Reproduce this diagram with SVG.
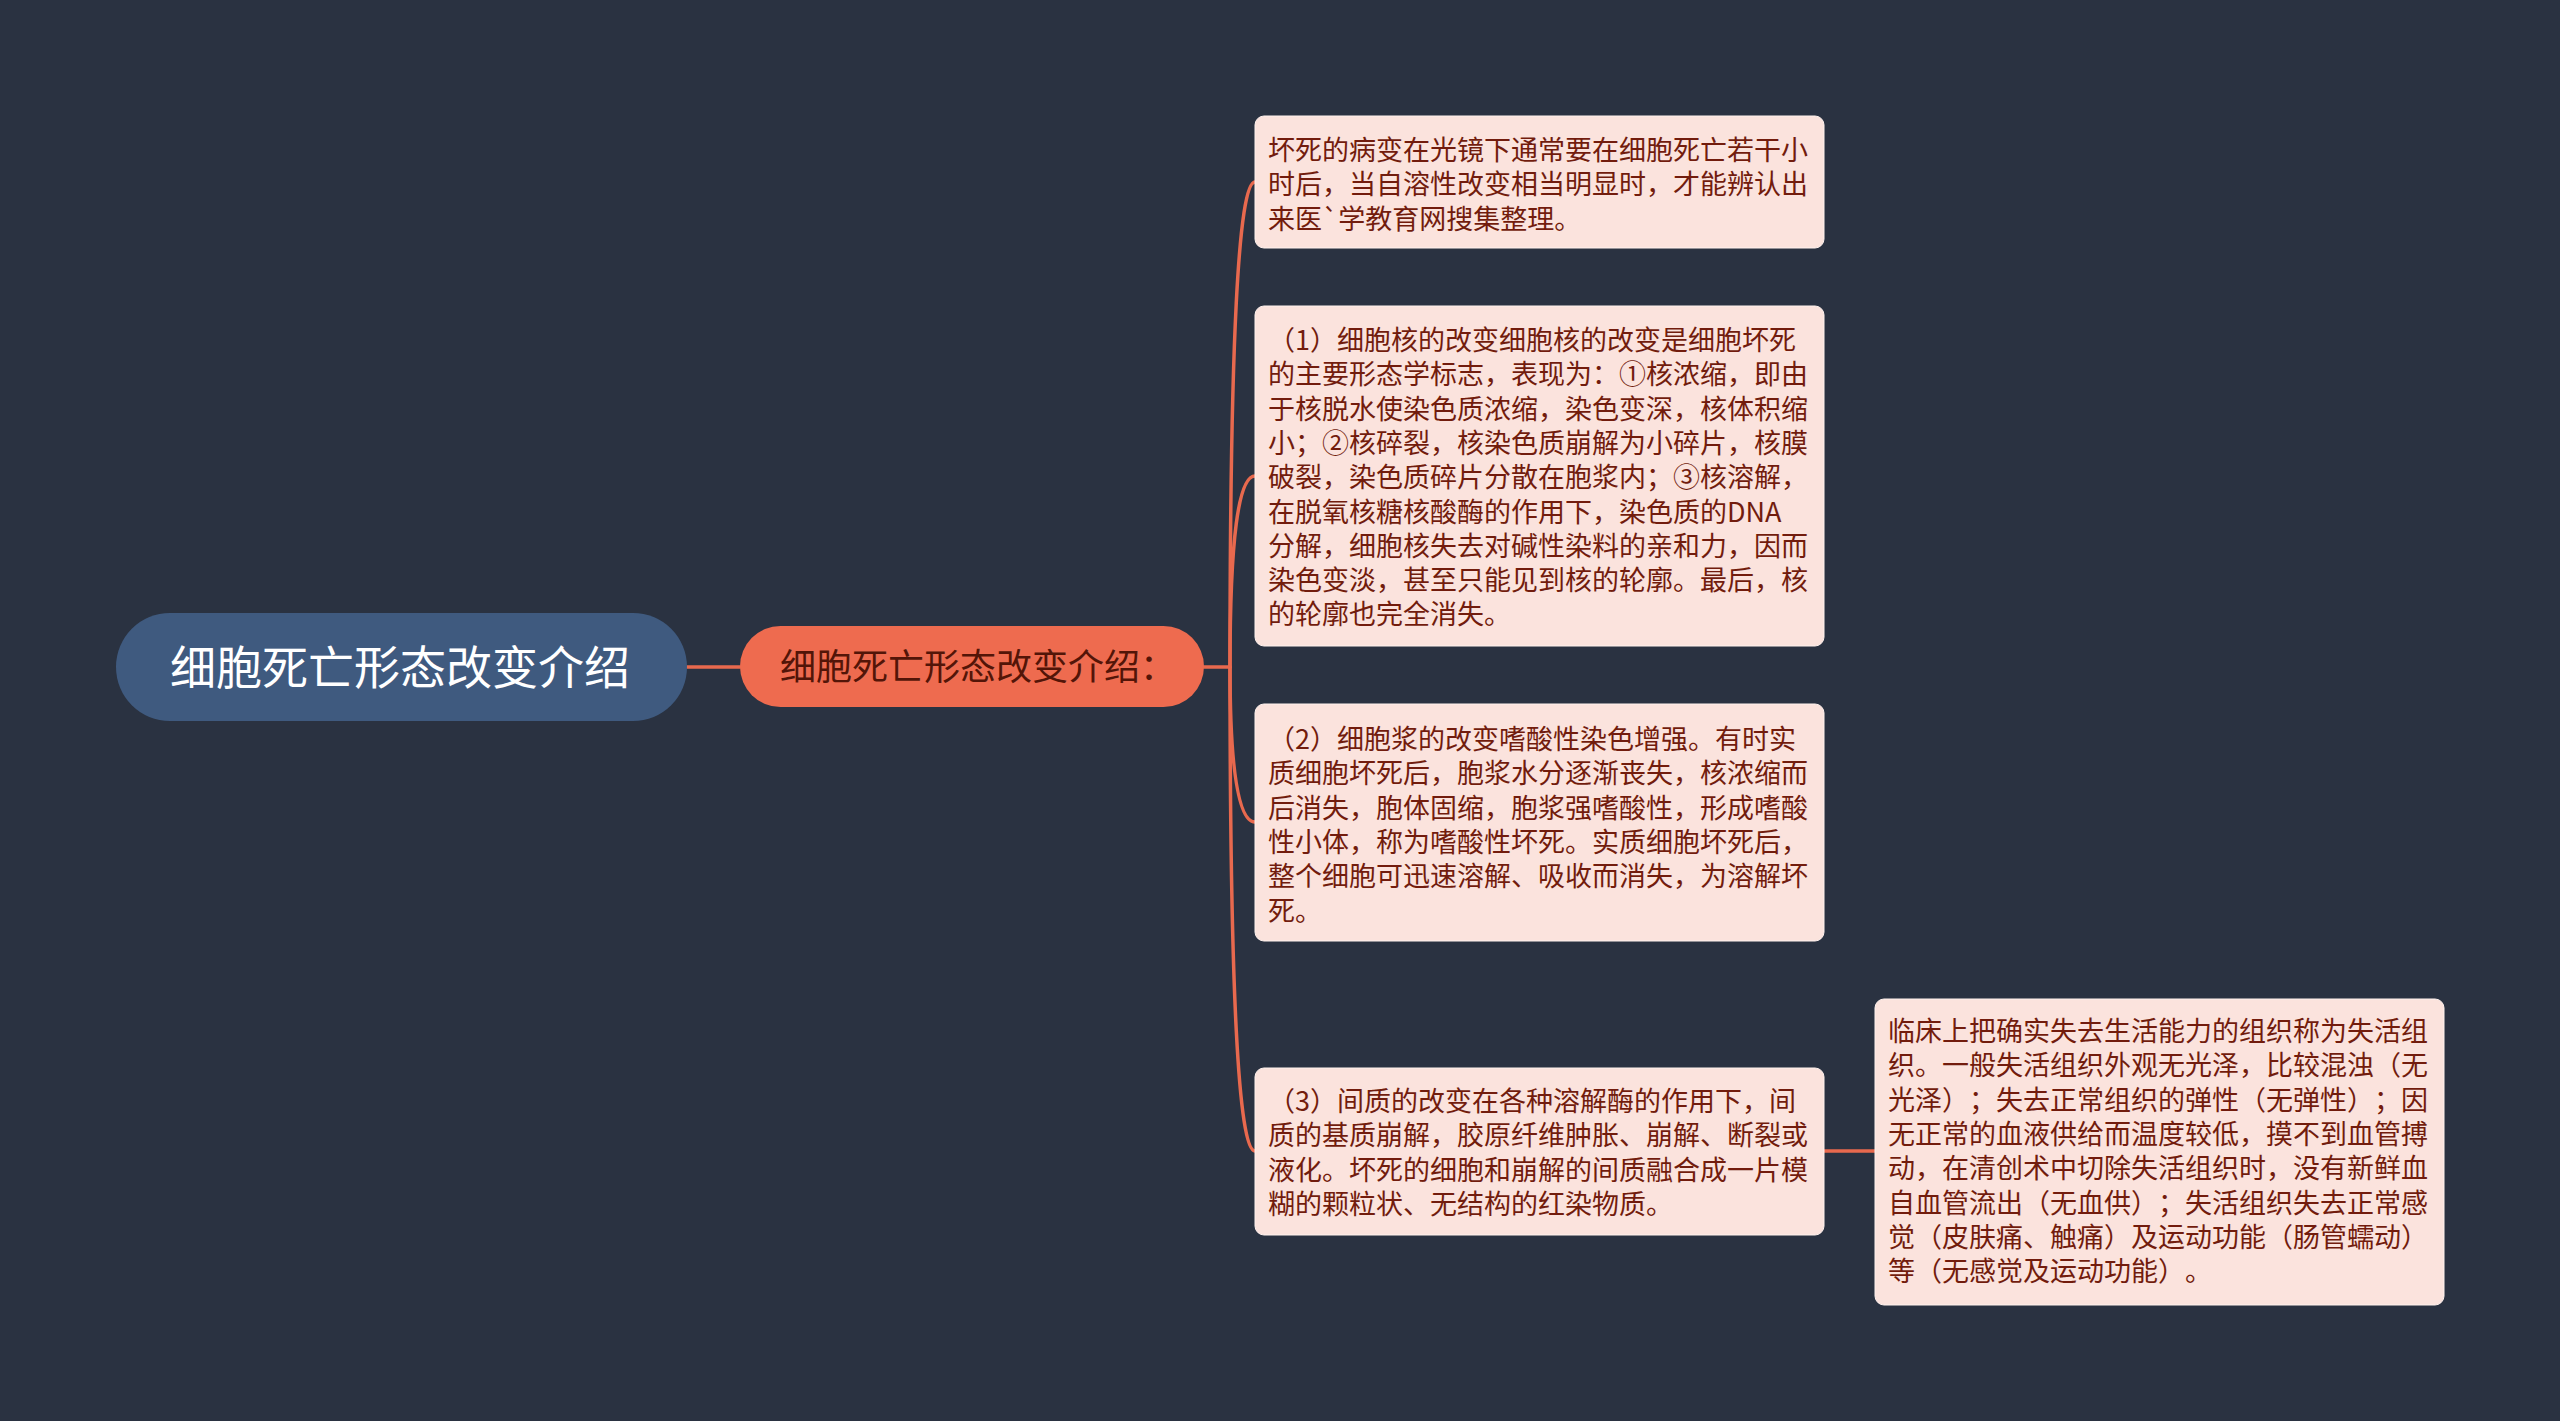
<svg xmlns="http://www.w3.org/2000/svg" width="2560" height="1421" viewBox="0 0 2560 1421">
<style>
.cjk{font-family:"Noto Sans CJK SC","Noto Sans",sans-serif;text-spacing-trim:space-all;}
.leaf rect{fill:#fbe3dd;stroke:#fff2ee;stroke-width:1;}
.leaf text{font-size:27px;fill:#721c0d;}
.conn path{fill:none;stroke:#e8694e;stroke-width:3.5;stroke-linecap:round;}
</style>
<rect x="0" y="0" width="2560" height="1421" fill="#2a3241"/>
<g class="conn">
<path d="M687 667 L740 667"/>
<path d="M1204 667 L1230 667"/>
<path d="M1230 667 Q1230 182 1255 182"/>
<path d="M1230 667 Q1230 476 1255 476"/>
<path d="M1230 667 Q1230 822 1255 822"/>
<path d="M1230 667 Q1230 1151 1255 1151"/>
<path d="M1824 1151 L1875 1151"/>
</g>
<g id="root">
<rect x="116" y="613" width="571" height="108" rx="54" fill="#3f5a7f"/>
<text class="cjk" x="170" y="684" font-size="46" fill="#ffffff">细胞死亡形态改变介绍</text>
</g>
<g id="main">
<rect x="740" y="626" width="464" height="81" rx="40.5" fill="#ee6b4f"/>
<text class="cjk" x="780" y="680" font-size="36" fill="#531508">细胞死亡形态改变介绍：</text>
</g>
<g id="leaf1" class="leaf">
<rect x="1255" y="116" width="569" height="132" rx="9"/>
<text class="cjk" x="1268" y="160"><tspan x="1268">坏死的病变在光镜下通常要在细胞死亡若干小</tspan><tspan x="1268" dy="34.3">时后，当自溶性改变相当明显时，才能辨认出</tspan><tspan x="1268" dy="34.3">来医`学教育网搜集整理。</tspan></text>
</g>
<g id="leaf2" class="leaf">
<rect x="1255" y="306" width="569" height="340" rx="9"/>
<text class="cjk" x="1268" y="350"><tspan x="1268">（1）细胞核的改变细胞核的改变是细胞坏死</tspan><tspan x="1268" dy="34.3">的主要形态学标志，表现为：①核浓缩，即由</tspan><tspan x="1268" dy="34.3">于核脱水使染色质浓缩，染色变深，核体积缩</tspan><tspan x="1268" dy="34.3">小；②核碎裂，核染色质崩解为小碎片，核膜</tspan><tspan x="1268" dy="34.3">破裂，染色质碎片分散在胞浆内；③核溶解，</tspan><tspan x="1268" dy="34.3">在脱氧核糖核酸酶的作用下，染色质的DNA</tspan><tspan x="1268" dy="34.3">分解，细胞核失去对碱性染料的亲和力，因而</tspan><tspan x="1268" dy="34.3">染色变淡，甚至只能见到核的轮廓。最后，核</tspan><tspan x="1268" dy="34.3">的轮廓也完全消失。</tspan></text>
</g>
<g id="leaf3" class="leaf">
<rect x="1255" y="704" width="569" height="237" rx="9"/>
<text class="cjk" x="1268" y="749"><tspan x="1268">（2）细胞浆的改变嗜酸性染色增强。有时实</tspan><tspan x="1268" dy="34.3">质细胞坏死后，胞浆水分逐渐丧失，核浓缩而</tspan><tspan x="1268" dy="34.3">后消失，胞体固缩，胞浆强嗜酸性，形成嗜酸</tspan><tspan x="1268" dy="34.3">性小体，称为嗜酸性坏死。实质细胞坏死后，</tspan><tspan x="1268" dy="34.3">整个细胞可迅速溶解、吸收而消失，为溶解坏</tspan><tspan x="1268" dy="34.3">死。</tspan></text>
</g>
<g id="leaf4" class="leaf">
<rect x="1255" y="1068" width="569" height="167" rx="9"/>
<text class="cjk" x="1268" y="1111"><tspan x="1268">（3）间质的改变在各种溶解酶的作用下，间</tspan><tspan x="1268" dy="34.3">质的基质崩解，胶原纤维肿胀、崩解、断裂或</tspan><tspan x="1268" dy="34.3">液化。坏死的细胞和崩解的间质融合成一片模</tspan><tspan x="1268" dy="34.3">糊的颗粒状、无结构的红染物质。</tspan></text>
</g>
<g id="leaf5" class="leaf">
<rect x="1875" y="999" width="569" height="306" rx="9"/>
<text class="cjk" x="1888" y="1041"><tspan x="1888">临床上把确实失去生活能力的组织称为失活组</tspan><tspan x="1888" dy="34.3">织。一般失活组织外观无光泽，比较混浊（无</tspan><tspan x="1888" dy="34.3">光泽）；失去正常组织的弹性（无弹性）；因</tspan><tspan x="1888" dy="34.3">无正常的血液供给而温度较低，摸不到血管搏</tspan><tspan x="1888" dy="34.3">动，在清创术中切除失活组织时，没有新鲜血</tspan><tspan x="1888" dy="34.3">自血管流出（无血供）；失活组织失去正常感</tspan><tspan x="1888" dy="34.3">觉（皮肤痛、触痛）及运动功能（肠管蠕动）</tspan><tspan x="1888" dy="34.3">等（无感觉及运动功能）。</tspan></text>
</g>
</svg>
